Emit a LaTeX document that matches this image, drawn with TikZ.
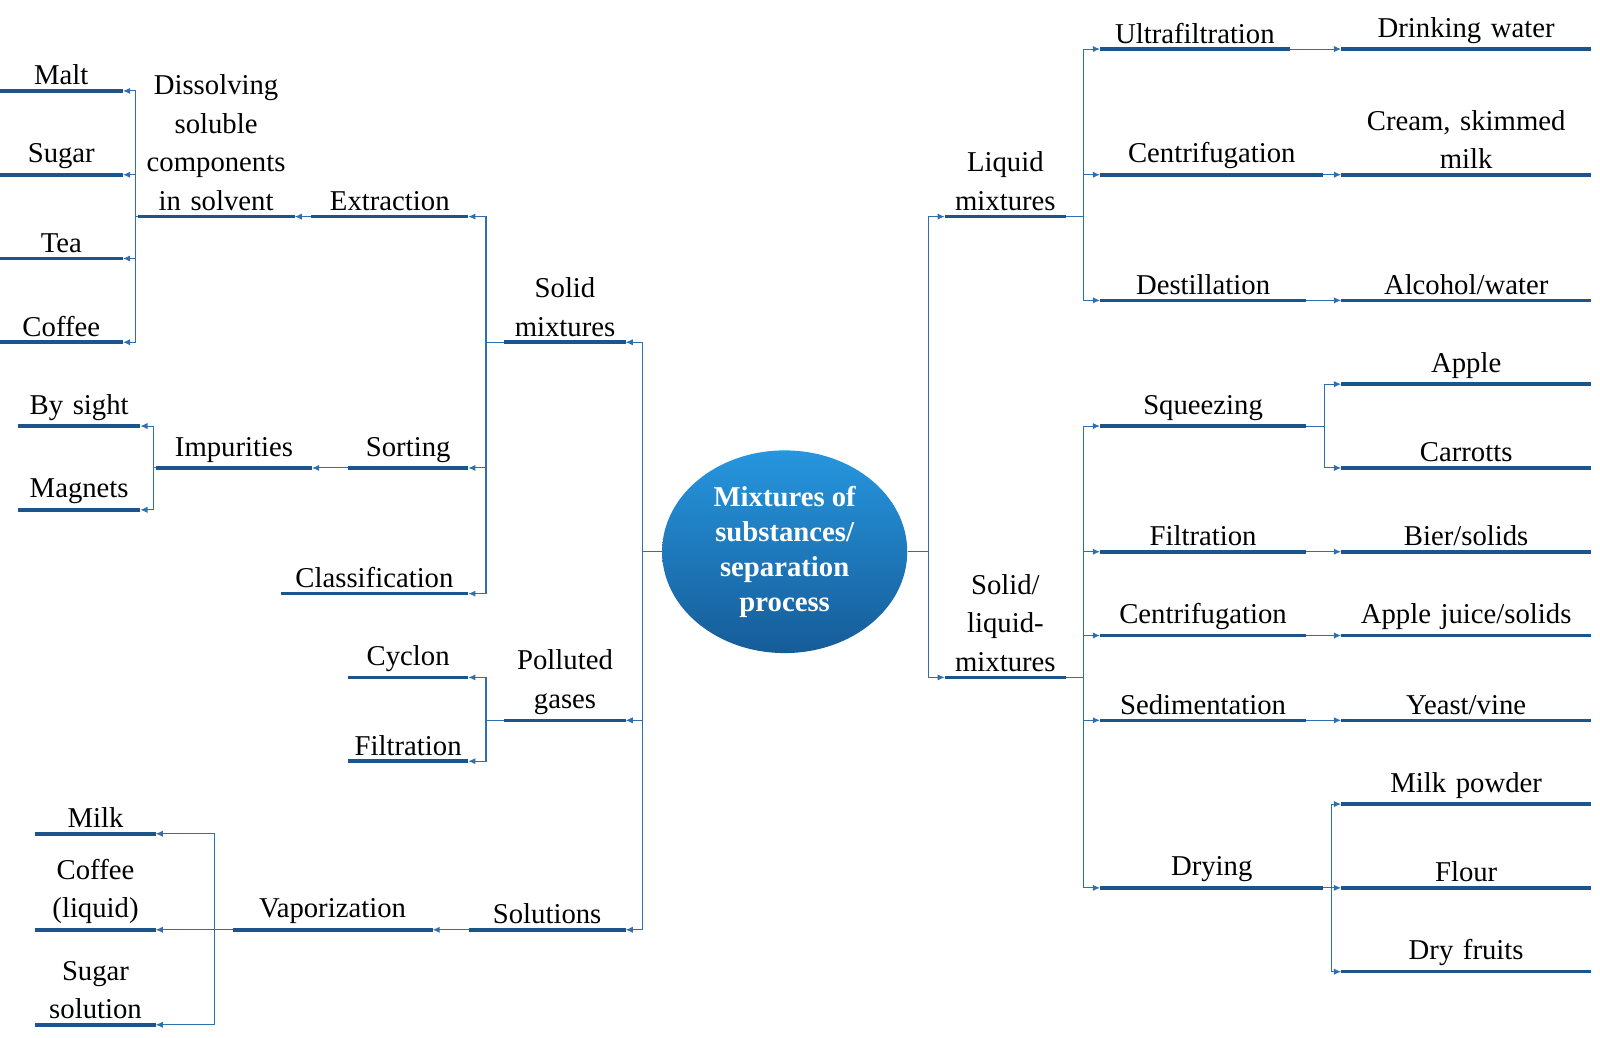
\documentclass[tikz,border=0pt]{standalone}
\usepackage{fontspec}
\setmainfont{Liberation Serif}
\usetikzlibrary{arrows.meta,shapes.geometric}
\definecolor{lb}{RGB}{28,84,140}
\definecolor{cb}{RGB}{46,112,175}
\definecolor{etop}{RGB}{38,150,222}
\definecolor{ebot}{RGB}{22,92,152}
\tikzset{
 ul/.style={anchor=south,inner xsep=0pt,inner ysep=3pt,align=center,
   font=\fontsize{16}{21.5}\selectfont},
 uline/.style={draw=lb,line width=2pt},
 conn/.style={draw=cb,line width=0.6pt,-{Latex[length=4pt,width=3.5pt]}}
}
\newcommand\itm[5]{\pgfmathsetmacro\ww{(#3-#2)*0.02}\node[ul,text width=\ww cm] (#1) at ({(#2+#3)/2},#4) {#5};
 \draw[uline] (#1.south west) -- (#1.south east);}
\begin{document}
\begin{tikzpicture}[x=0.02cm,y=-0.02cm]
\node[ellipse,minimum width=4.8cm,minimum height=3.8cm,top color=etop,bottom color=ebot,draw=none,
  text=white,font=\fontsize{16}{19.5}\selectfont\bfseries,align=center] (c) at (768,540)
  {Mixtures of\\substances/\\separation\\process};
% left
\itm{malt}{0}{120}{89}{Malt}
\itm{sug}{0}{120}{171}{Sugar}
\itm{tea}{0}{120}{253}{Tea}
\itm{cof}{0}{120}{335}{Coffee}
\itm{dis}{135}{288}{212}{Dissolving\\soluble\\components\\in solvent}
\itm{ext}{305}{458}{212}{Extraction}
\itm{sm}{494}{612}{335}{Solid\\mixtures}
\itm{bys}{18}{137}{417}{By sight}
\itm{mag}{18}{137}{499}{Magnets}
\itm{imp}{153}{305}{458}{Impurities}
\itm{sor}{341}{458}{458}{Sorting}
\itm{cla}{275}{458}{581}{Classification}
\itm{cyc}{341}{458}{663}{Cyclon}
\itm{fil}{341}{458}{745}{Filtration}
\itm{pg}{494}{612}{705}{Polluted\\gases}
\itm{milk}{35}{152}{816}{Milk}
\itm{cofl}{35}{152}{910}{Coffee\\(liquid)}
\itm{ss}{35}{152}{1003}{Sugar\\solution}
\itm{vap}{228}{423}{910}{Vaporization}
\itm{sol}{459}{612}{910}{Solutions}
% right
\itm{lm}{925}{1043}{212}{Liquid\\mixtures}
\itm{slm}{925}{1043}{663}{Solid/\\liquid-\\mixtures}
\itm{uf}{1077}{1262}{48}{Ultrafiltration}
\itm{cen}{1077}{1295}{171}{Centrifugation}
\itm{des}{1077}{1278}{294}{Destillation}
\itm{dw}{1313}{1557}{48}{Drinking water}
\itm{cr}{1313}{1557}{171}{Cream, skimmed\\milk}
\itm{aw}{1313}{1557}{294}{Alcohol/water}
\itm{sq}{1077}{1278}{417}{Squeezing}
\itm{app}{1313}{1557}{376}{Apple}
\itm{car}{1313}{1557}{458}{Carrotts}
\itm{fi2}{1077}{1278}{540}{Filtration}
\itm{bi}{1313}{1557}{540}{Bier/solids}
\itm{ce2}{1077}{1278}{622}{Centrifugation}
\itm{aj}{1313}{1557}{622}{Apple juice/solids}
\itm{sed}{1077}{1278}{705}{Sedimentation}
\itm{yv}{1313}{1557}{705}{Yeast/vine}
\itm{dry}{1077}{1295}{869}{Drying}
\itm{mp}{1313}{1557}{787}{Milk powder}
\itm{fl}{1313}{1557}{869}{Flour}
\itm{df}{1313}{1557}{951}{Dry fruits}
% connectors left
\foreach \t in {sm,pg,sol} \draw[conn] (c.west) -- ++(-19,0) |- (\t.south east);
\foreach \t in {ext,sor,cla} \draw[conn] (sm.south west) -- ++(-18,0) |- (\t.south east);
\draw[conn] (ext.south west) -- (dis.south east);
\foreach \t in {malt,sug,tea,cof} \draw[conn] (dis.south west) -- ++(-2,0) |- (\t.south east);
\draw[conn] (sor.south west) -- (imp.south east);
\foreach \t in {bys,mag} \draw[conn] (imp.south west) -- ++(-2,0) |- (\t.south east);
\foreach \t in {cyc,fil} \draw[conn] (pg.south west) -- ++(-18,0) |- (\t.south east);
\draw[conn] (sol.south west) -- (vap.south east);
\foreach \t in {milk,cofl,ss} \draw[conn] (vap.south west) -- ++(-18,0) |- (\t.south east);
% connectors right
\foreach \t in {lm,slm} \draw[conn] (c.east) -- ++(20,0) |- (\t.south west);
\foreach \t in {uf,cen,des} \draw[conn] (lm.south east) -- ++(17,0) |- (\t.south west);
\draw[conn] (uf.south east) -- (dw.south west);
\draw[conn] (cen.south east) -- (cr.south west);
\draw[conn] (des.south east) -- (aw.south west);
\foreach \t in {sq,fi2,ce2,sed,dry} \draw[conn] (slm.south east) -- ++(17,0) |- (\t.south west);
\foreach \t in {app,car} \draw[conn] (sq.south east) -- ++(18,0) |- (\t.south west);
\draw[conn] (fi2.south east) -- (bi.south west);
\draw[conn] (ce2.south east) -- (aj.south west);
\draw[conn] (sed.south east) -- (yv.south west);
\foreach \t in {mp,fl,df} \draw[conn] (dry.south east) -- ++(8,0) |- (\t.south west);
\pgfresetboundingbox
\useasboundingbox (0,0) rectangle (1566,1015);
\end{tikzpicture}
\end{document}
